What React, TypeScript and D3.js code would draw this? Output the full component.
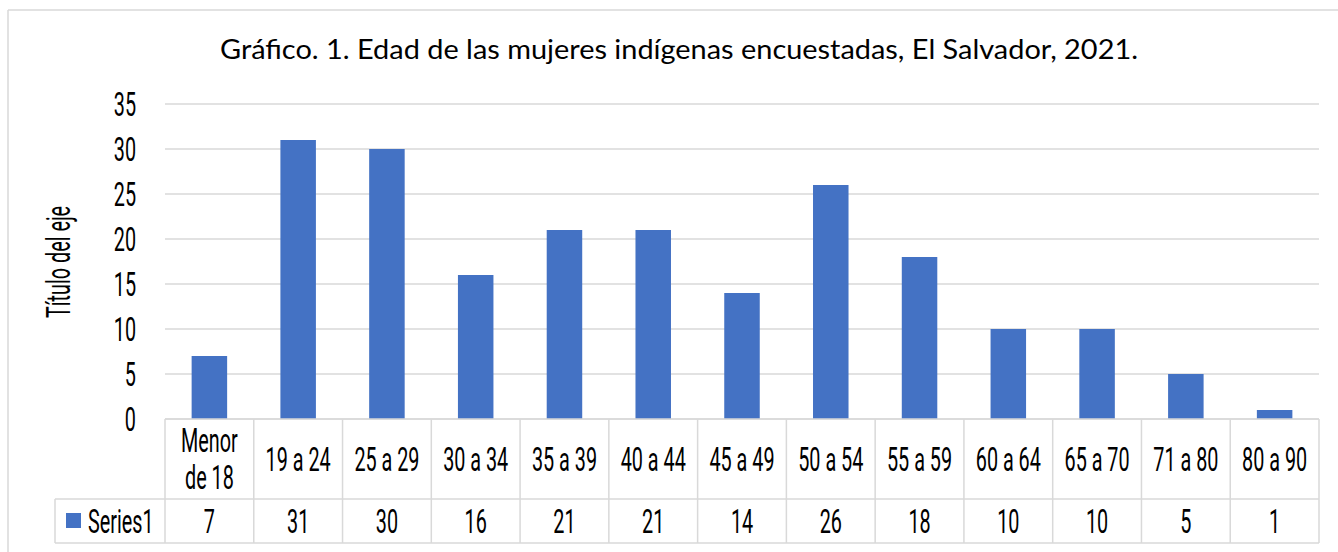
import React from "react";
import * as d3 from "d3";

const categories: string[] = [
  "Menor de 18", "19 a 24", "25 a 29", "30 a 34", "35 a 39", "40 a 44", "45 a 49",
  "50 a 54", "55 a 59", "60 a 64", "65 a 70", "71 a 80", "80 a 90",
];
const values: number[] = [7, 31, 30, 16, 21, 21, 14, 26, 18, 10, 10, 5, 1];
const yTicks: number[] = [0, 5, 10, 15, 20, 25, 30, 35];
const seriesName = "Series1";
const title = "Gráfico. 1. Edad de las mujeres indígenas encuestadas, El Salvador, 2021.";
const yAxisTitle = "Título del eje";

const W = 1338;
const H = 552;
const plotLeft = 165;
const plotRight = 1319;
const plotTop = 104;
const plotBottom = 419;
const row1Bottom = 499;
const row2Bottom = 543;
const legendLeft = 55;
const gridColor = "#d9d9d9";
const barColor = "#4472C4";
const condFont = "Roboto, sans-serif";
const condSize = 33;
const sx = 0.6;

function CondText(props: { x: number; y: number; anchor?: string; children: React.ReactNode; size?: number }) {
  const { x, y, anchor = "middle", children, size = condSize } = props;
  return (
    <text
      transform={`translate(${x},${y}) scale(${sx},1)`}
      textAnchor={anchor}
      fontFamily={condFont}
      fontSize={size}
      fontWeight={400}
      fill="#000"
    >
      {children}
    </text>
  );
}

function wrap(label: string): string[] {
  if (label.length > 8) {
    const i = label.indexOf(" ");
    return [label.slice(0, i), label.slice(i + 1)];
  }
  return [label];
}

export default function App() {
  const x = d3.scaleBand<string>().domain(categories).range([plotLeft, plotRight]).paddingInner(0.6).paddingOuter(0.3);
  const cols = d3.scaleBand<string>().domain(categories).range([plotLeft, plotRight]);
  const y = d3.scaleLinear().domain([0, 35]).range([plotBottom, plotTop]);
  const rowMid = (plotBottom + row1Bottom) / 2;

  return (
    <svg width={W} height={H} style={{ position: "absolute", left: 0, top: 0, background: "#fff" }}>
      <rect x={0} y={0} width={W} height={H} fill="#fff" />
      <line x1={8} y1={10} x2={W} y2={10} stroke={gridColor} strokeWidth={1.5} />
      <line x1={8} y1={10} x2={8} y2={H} stroke={gridColor} strokeWidth={1.5} />

      <text
        x={(220 + 1138) / 2}
        y={59}
        textAnchor="middle"
        fontFamily="Lato, 'Open Sans', sans-serif"
        fontSize={26}
        textLength={918}
        lengthAdjust="spacingAndGlyphs"
        fill="#000"
      >
        {title}
      </text>

      {yTicks.map((t) => (
        <line key={t} x1={plotLeft} x2={plotRight} y1={y(t)} y2={y(t)} stroke={gridColor} strokeWidth={1.5} />
      ))}

      {yTicks.map((t) => (
        <CondText key={t} x={136} y={y(t) + 11.5} anchor="end">{t}</CondText>
      ))}

      <text
        transform={`translate(70,262) rotate(-90) scale(${sx},1)`}
        textAnchor="middle"
        fontFamily={condFont}
        fontSize={33}
        fontWeight={400}
        fill="#000"
      >
        {yAxisTitle}
      </text>

      {values.map((v, i) => (
        <rect
          key={i}
          x={x(categories[i])!}
          width={x.bandwidth()}
          y={y(v)}
          height={y(0) - y(v)}
          fill={barColor}
        />
      ))}

      <line x1={plotLeft} x2={plotRight} y1={plotBottom} y2={plotBottom} stroke={gridColor} strokeWidth={1.5} />
      <line x1={legendLeft} x2={plotRight} y1={row1Bottom} y2={row1Bottom} stroke={gridColor} strokeWidth={1.5} />
      <line x1={legendLeft} x2={plotRight} y1={row2Bottom} y2={row2Bottom} stroke={gridColor} strokeWidth={1.5} />
      <line x1={legendLeft} x2={legendLeft} y1={row1Bottom} y2={row2Bottom} stroke={gridColor} strokeWidth={1.5} />
      {categories.map((c) => (
        <line key={c} x1={cols(c)!} x2={cols(c)!} y1={plotBottom} y2={row2Bottom} stroke={gridColor} strokeWidth={1.5} />
      ))}
      <line x1={plotRight} x2={plotRight} y1={plotBottom} y2={row2Bottom} stroke={gridColor} strokeWidth={1.5} />

      {categories.map((c) => {
        const lines = wrap(c);
        const cx = cols(c)! + cols.bandwidth() / 2;
        const lh = 37;
        const startY = rowMid + 11.5 - ((lines.length - 1) * lh) / 2;
        return lines.map((ln, j) => (
          <CondText key={c + j} x={cx} y={startY + j * lh}>{ln}</CondText>
        ));
      })}

      <rect x={66} y={513} width={15} height={15} fill={barColor} />
      <CondText x={88} y={533} anchor="start">{seriesName}</CondText>

      {values.map((v, i) => (
        <CondText key={i} x={cols(categories[i])! + cols.bandwidth() / 2} y={533}>{v}</CondText>
      ))}
    </svg>
  );
}
